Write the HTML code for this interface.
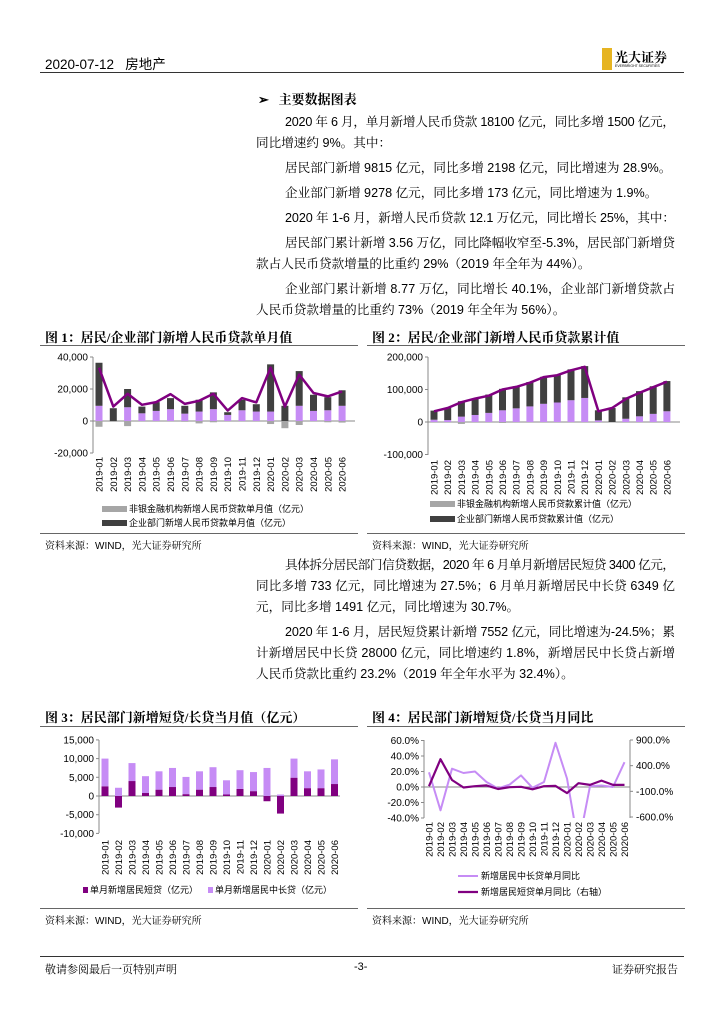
<!DOCTYPE html>
<html><head><meta charset="utf-8">
<style>
body{margin:0;width:724px;height:1024px;background:#fff;position:relative;overflow:hidden;font-family:"Liberation Sans","Noto Serif CJK SC",serif;color:#000}
.a{position:absolute;white-space:nowrap}
.p{position:absolute;font-family:"Liberation Sans","Noto Serif CJK SC",serif;font-size:12.6px;line-height:21px;white-space:nowrap}
.t{position:absolute;font-family:"Liberation Serif","Noto Serif CJK SC",serif;font-size:13px;font-weight:bold}
.src{position:absolute;font-family:"Liberation Sans","Noto Serif CJK SC",serif;font-size:10px}
.hl{position:absolute;height:1px;background:#666}
svg text{font-family:"Liberation Sans","Noto Sans CJK SC",sans-serif}
</style></head><body>
<div class="a" style="left:45px;top:53px;font-size:13.5px;font-family:'Liberation Sans','Noto Sans CJK SC',sans-serif">2020-07-12&nbsp;&nbsp;&nbsp;房地产</div>
<div style="position:absolute;left:602px;top:48px;width:10px;height:22px;background:#e6b422"></div>
<div class="a" style="left:615px;top:47px;font-size:13px;font-weight:bold;font-family:'Noto Serif CJK SC',serif">光大证券</div>
<div class="a" style="left:615px;top:64px;font-size:3.5px">EVERBRIGHT SECURITIES</div>
<div class="hl" style="left:40px;top:72px;width:644px;background:#333"></div>

<div class="a" style="left:258px;top:89px;font-size:13px;font-weight:bold;font-family:'Noto Serif CJK SC',serif">➢&nbsp;&nbsp;&nbsp;主要数据图表</div>
<div class="p j" data-w="390" style="left:285px;top:112px">2020 年 6 月，单月新增人民币贷款 18100 亿元，同比多增 1500 亿元，</div>
<div class="p" style="left:256px;top:133px">同比增速约 9%。其中：</div>
<div class="p" style="left:285px;top:158px">居民部门新增 9815 亿元，同比多增 2198 亿元，同比增速为 28.9%。</div>
<div class="p" style="left:285px;top:183px">企业部门新增 9278 亿元，同比多增 173 亿元，同比增速为 1.9%。</div>
<div class="p j" data-w="390" style="left:285px;top:208px">2020 年 1-6 月，新增人民币贷款 12.1 万亿元，同比增长 25%，其中：</div>
<div class="p j" data-w="390" style="left:285px;top:233px">居民部门累计新增 3.56 万亿，同比降幅收窄至-5.3%，居民部门新增贷</div>
<div class="p" style="left:256px;top:254px">款占人民币贷款增量的比重约 29%（2019 年全年为 44%）。</div>
<div class="p j" data-w="390" style="left:285px;top:279px">企业部门累计新增 8.77 万亿，同比增长 40.1%，企业部门新增贷款占</div>
<div class="p" style="left:256px;top:300px">人民币贷款增量的比重约 73%（2019 年全年为 56%）。</div>

<div class="t" style="left:45px;top:327px">图 1：居民/企业部门新增人民币贷款单月值</div>
<div class="t" style="left:372px;top:327px">图 2：居民/企业部门新增人民币贷款累计值</div>
<div class="hl" style="left:40px;top:345px;width:318px"></div>
<div class="hl" style="left:367px;top:345px;width:318px"></div>
<div class="hl" style="left:40px;top:533px;width:318px"></div>
<div class="hl" style="left:367px;top:533px;width:318px"></div>
<div class="src" style="left:45px;top:537px">资料来源：WIND，光大证券研究所</div>
<div class="src" style="left:372px;top:537px">资料来源：WIND，光大证券研究所</div>

<div class="p j" data-w="390" style="left:285px;top:555px">具体拆分居民部门信贷数据，2020 年 6 月单月新增居民短贷 3400 亿元，</div>
<div class="p j" data-w="419" style="left:256px;top:576px">同比多增 733 亿元，同比增速为 27.5%；6 月单月新增居民中长贷 6349 亿</div>
<div class="p" style="left:256px;top:597px">元，同比多增 1491 亿元，同比增速为 30.7%。</div>
<div class="p j" data-w="390" style="left:285px;top:622px">2020 年 1-6 月，居民短贷累计新增 7552 亿元，同比增速为-24.5%；累</div>
<div class="p j" data-w="419" style="left:256px;top:643px">计新增居民中长贷 28000 亿元，同比增速约 1.8%，新增居民中长贷占新增</div>
<div class="p" style="left:256px;top:664px">人民币贷款比重约 23.2%（2019 年全年水平为 32.4%）。</div>

<div class="t" style="left:45px;top:707px">图 3：居民部门新增短贷/长贷当月值（亿元）</div>
<div class="t" style="left:372px;top:707px">图 4：居民部门新增短贷/长贷当月同比</div>
<div class="hl" style="left:40px;top:726px;width:318px"></div>
<div class="hl" style="left:367px;top:726px;width:318px"></div>
<div class="hl" style="left:40px;top:908px;width:318px"></div>
<div class="hl" style="left:367px;top:908px;width:318px"></div>
<div class="src" style="left:45px;top:912px">资料来源：WIND，光大证券研究所</div>
<div class="src" style="left:372px;top:912px">资料来源：WIND，光大证券研究所</div>

<div class="hl" style="left:40px;top:956px;width:644px;background:#333"></div>
<div class="src" style="left:45px;top:961px;font-size:11px">敬请参阅最后一页特别声明</div>
<div class="src" style="left:354px;top:961px;font-size:11px">-3-</div>
<div class="src" style="left:612px;top:961px;font-size:11px">证券研究报告</div>

<svg id="charts" width="724" height="1024" style="position:absolute;left:0;top:0">
<defs><clipPath id="c4"><rect x="424" y="740" width="206" height="78"/></clipPath></defs>
</svg>
<script>
const months=["2019-01","2019-02","2019-03","2019-04","2019-05","2019-06","2019-07","2019-08","2019-09","2019-10","2019-11","2019-12","2020-01","2020-02","2020-03","2020-04","2020-05","2020-06"];
// chart 1 monthly
const c1Household=[9500,0,8600,4800,6300,7400,4600,5900,7400,3800,6700,5900,5900,0,9500,6300,6700,9500];
const c1Corporate=[26900,8000,11400,4200,5500,6900,4900,7400,10500,1700,6600,4600,29500,9500,21700,10100,8200,9700];
const c1NonBank=[-3600,-500,-3200,0,0,0,-500,-1500,-800,0,0,0,-1900,-4500,-2500,0,-800,-1000];
const c1Total=[33300,9000,17000,10100,11800,16800,10700,12600,17000,6500,14300,11600,33300,9000,29000,17500,15400,18500];
const c1Ticks=[40000,20000,0,-20000];
const c1TickLabels=["40,000","20,000","0","-20,000"];
// chart 2 cumulative
const c2Household=[7000,6000,16500,21600,28000,36000,42000,48000,56000,60000,67000,74000,5000,0,10000,17500,25000,33000];
const c2Corporate=[28000,37000,47500,49400,56500,66000,68000,75000,83000,86000,95000,98000,31000,43000,66000,77500,85000,93000];
const c2NonBank=[-2000,-2000,-6000,-2000,-2000,-3000,-2000,-2000,-2000,-2000,-2000,-2000,-2000,-1000,-2000,-2000,-2000,-2000];
const c2Total=[33000,43000,61000,72000,81000,100000,108000,121000,138000,144000,159000,170000,33000,43000,71000,90000,107000,124000];
const c2Ticks=[200000,100000,0,-100000];
const c2TickLabels=["200,000","100,000","0","-100,000"];
// chart 3
const c3Short=[2600,-3100,4000,800,1700,2400,500,1700,2400,400,1900,1300,-1400,-4700,4900,2100,2100,3200];
const c3Long=[7400,2200,4800,4500,4900,5100,4600,4900,5300,3800,5000,5100,7500,400,5100,4500,5000,6600];
const c3Ticks=[15000,10000,5000,0,-5000,-10000];
const c3TickLabels=["15,000","10,000","5,000","0","-5,000","-10,000"];
// chart 4
const c4LongYoY=[19,-30,23.6,18,20,6.5,-2,3,15,-1,6.5,57,11,-75,1,2,0,32];
const c4ShortYoY=[0,526,120,-25,0,15,-55,-20,-12,-60,0,5,-135,58,25,110,25,25];
const c4LeftTicks=[60,40,20,0,-20,-40];
const c4LeftLabels=["60.0%","40.0%","20.0%","0.0%","-20.0%","-40.0%"];
const c4RightTicks=[900,400,-100,-600];
const c4RightLabels=["900.0%","400.0%","-100.0%","-600.0%"];

// fit justified lines
document.querySelectorAll('.j').forEach(el=>{
  const target=+el.getAttribute('data-w');
  const n=el.textContent.length;
  let w=el.getBoundingClientRect().width;
  let ls=(target-w)/Math.max(n-1,1);
  el.style.letterSpacing=ls+'px';
});

const svg=document.getElementById('charts');
const NS="http://www.w3.org/2000/svg";
function mk(tag,attrs,parent){const e=document.createElementNS(NS,tag);for(const k in attrs)e.setAttribute(k,attrs[k]);(parent||svg).appendChild(e);return e;}
function txt(x,y,s,size,anchor,rot){const e=mk('text',{x:x,y:y,'font-size':size,'text-anchor':anchor||'start',fill:'#000'});if(rot)e.setAttribute('transform','rotate(-90 '+x+' '+y+')');e.textContent=s;return e;}
const LP='#c68cf5',DK='#404040',GR='#a6a6a6',PU='#800080';

function axesLeft(ax,yTop,yBot,ticks,labels,ys,lx,name){
  let g=mk('g',{});
  mk('line',{x1:ax,y1:yTop,x2:ax,y2:yBot,stroke:'#888','stroke-width':1},g);
  ticks.forEach((t,i)=>{mk('line',{x1:ax-3,y1:ys(t),x2:ax,y2:ys(t),stroke:'#888'},g);
    let e=txt(lx,ys(t)+3.5,labels[i],10,'end');g.appendChild(e);});
}
function xLabels(xs,yTop,name){
  let g=mk('g',{});
  months.forEach((m,i)=>{let e=txt(xs(i)+3.5,yTop,m,9.5,'end',true);g.appendChild(e);});
}
function polyline(xs,ys,vals,color,w,name,clip){
  const pts=vals.map((v,i)=>xs(i).toFixed(1)+','+ys(v).toFixed(1)).join(' ');
  const e=mk('polyline',{points:pts,fill:'none',stroke:color,'stroke-width':w,'stroke-linejoin':'round'});
  if(clip)e.setAttribute('clip-path',clip);
  
  
}
function rect(x,y1,y2,w,color,name){
  const e=mk('rect',{x:x-w/2,y:Math.min(y1,y2),width:w,height:Math.abs(y2-y1),fill:color});
  
  
}

// Chart 1
{const ys=v=>421-v*32/20000, xs=i=>99+i*14.3;
 axesLeft(93,357,453,c1Ticks,c1TickLabels,ys,88,'fig1');
 mk('line',{x1:93,y1:ys(0),x2:355,y2:ys(0),stroke:'#888'});
 months.forEach((m,i)=>{rect(xs(i),ys(0),ys(c1NonBank[i]),7,GR,'fig1-bar-nonbank');
   rect(xs(i),ys(0),ys(c1Household[i]),7,LP,'fig1-bar-household');
   rect(xs(i),ys(c1Household[i]),ys(c1Household[i]+c1Corporate[i]),7,DK,'fig1-bar-corporate');});
 polyline(xs,ys,c1Total,PU,2.5,'fig1-total-line');
 xLabels(xs,457,'fig1');
 mk('rect',{x:102,y:506,width:25,height:6,fill:GR});txt(129,512,'非银金融机构新增人民币贷款单月值（亿元）',9,'start');
 mk('rect',{x:102,y:520,width:25,height:6,fill:DK});txt(129,526,'企业部门新增人民币贷款单月值（亿元）',9,'start');
}
// Chart 2
{const ys=v=>422-v*32.5/100000, xs=i=>434+i*13.7;
 axesLeft(428,357,455,c2Ticks,c2TickLabels,ys,423,'fig2');
 mk('line',{x1:428,y1:ys(0),x2:680,y2:ys(0),stroke:'#888'});
 months.forEach((m,i)=>{rect(xs(i),ys(0),ys(c2NonBank[i]),7,GR,'fig2-bar-nonbank');
   rect(xs(i),ys(0),ys(c2Household[i]),7,LP,'fig2-bar-household');
   rect(xs(i),ys(c2Household[i]),ys(c2Household[i]+c2Corporate[i]),7,DK,'fig2-bar-corporate');});
 polyline(xs,ys,c2Total,PU,2.5,'fig2-total-line');
 xLabels(xs,460,'fig2');
 mk('rect',{x:430,y:501,width:25,height:6,fill:GR});txt(457,507,'非银金融机构新增人民币贷款累计值（亿元）',9,'start');
 mk('rect',{x:430,y:516,width:25,height:6,fill:DK});txt(457,522,'企业部门新增人民币贷款累计值（亿元）',9,'start');
}
// Chart 3
{const ys=v=>796-v*18.7/5000, xs=i=>105+i*13.5;
 axesLeft(99,740,833,c3Ticks,c3TickLabels,ys,94,'fig3');
 mk('line',{x1:99,y1:ys(0),x2:340,y2:ys(0),stroke:'#888'});
 months.forEach((m,i)=>{const s=c3Short[i];
   rect(xs(i),ys(0),ys(s),7,PU,'fig3-bar-short');
   const base=Math.max(s,0);
   rect(xs(i),ys(base),ys(base+c3Long[i]),7,LP,'fig3-bar-long');});
 xLabels(xs,840,'fig3');
 mk('rect',{x:83,y:887,width:5,height:6,fill:PU});txt(90,893,'单月新增居民短贷（亿元）',9,'start');
 mk('rect',{x:208,y:887,width:5,height:6,fill:LP});txt(215,893,'单月新增居民中长贷（亿元）',9,'start');
}
// Chart 4
{const yl=v=>787-v*15.5/20, yr=v=>740+(900-v)*77/1500, xs=i=>429+i*11.5;
 axesLeft(424,740,818,c4LeftTicks,c4LeftLabels,yl,419,'fig4');
 let g=mk('g',{});
 mk('line',{x1:630,y1:740,x2:630,y2:818,stroke:'#888'},g);
 c4RightTicks.forEach((t,i)=>{mk('line',{x1:630,y1:yr(t),x2:633,y2:yr(t),stroke:'#888'},g);g.appendChild(txt(636,yr(t)+3.5,c4RightLabels[i],10,'start'));});
 mk('line',{x1:424,y1:yl(0),x2:630,y2:yl(0),stroke:'#888'});
 polyline(xs,yl,c4LongYoY,LP,2,'fig4-long-yoy-line','url(#c4)');
 polyline(xs,yr,c4ShortYoY,PU,2.2,'fig4-short-yoy-line','url(#c4)');
 xLabels(xs,822,'fig4');
 mk('line',{x1:458,y1:876,x2:478,y2:876,stroke:LP,'stroke-width':2});txt(481,879,'新增居民中长贷单月同比',9,'start');
 mk('line',{x1:458,y1:892,x2:478,y2:892,stroke:PU,'stroke-width':2.2});txt(481,895,'新增居民短贷单月同比（右轴）',9,'start');
}
</script>
</body></html>
